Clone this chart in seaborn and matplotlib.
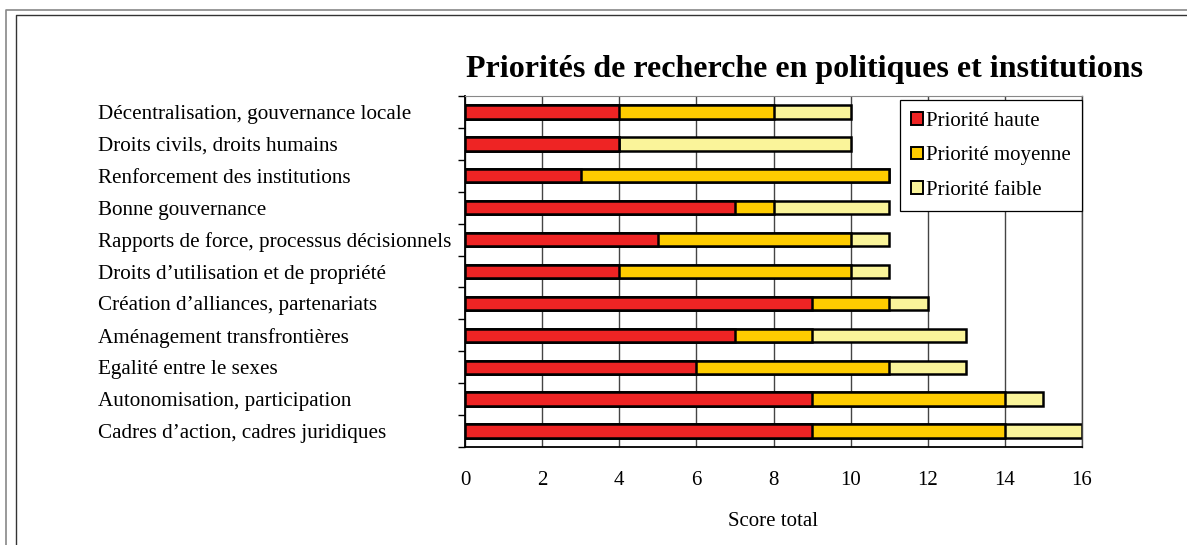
import matplotlib
matplotlib.use("Agg")
import matplotlib.pyplot as plt
from matplotlib.patches import Patch
from matplotlib.lines import Line2D
import seaborn as sns
import pandas as pd
import numpy as np

# Data (top to bottom)
themes = ["Décentralisation, gouvernance locale",
          "Droits civils, droits humains",
          "Renforcement des institutions",
          "Bonne gouvernance",
          "Rapports de force, processus décisionnels",
          "Droits d\u2019utilisation et de propriété",
          "Création d\u2019alliances, partenariats",
          "Aménagement transfrontières",
          "Egalité entre le sexes",
          "Autonomisation, participation",
          "Cadres d\u2019action, cadres juridiques"]
haute = [4, 4, 3, 7, 5, 4, 9, 7, 6, 9, 9]
moyenne = [4, 0, 8, 1, 5, 6, 2, 2, 5, 5, 5]
faible = [2, 6, 0, 3, 1, 1, 1, 4, 2, 1, 2]

colors = {"Priorité haute": "#EE2424",
          "Priorité moyenne": "#FFCC00",
          "Priorité faible": "#FAF49A"}

df = pd.DataFrame({"theme": themes, "haute": haute,
                   "moyenne": moyenne, "faible": faible})
df["cum_moy"] = df["haute"] + df["moyenne"]
df["total"] = df["cum_moy"] + df["faible"]

sns.set_style("white")
plt.rcParams["font.family"] = ["Liberation Serif", "DejaVu Serif"]
plt.rcParams.update({"text.color": "black", "axes.labelcolor": "black",
                     "xtick.color": "black", "ytick.color": "black"})

fig = plt.figure(figsize=(11.87, 5.45), dpi=100)
ax = fig.add_axes([465 / 1187, 1 - 447 / 545, (1082 - 465) / 1187, (447 - 96) / 545])

# stacked bars drawn as overlaid cumulative totals
for col, name in [("total", "Priorité faible"), ("cum_moy", "Priorité moyenne"),
                  ("haute", "Priorité haute")]:
    sns.barplot(data=df, y="theme", x=col, order=themes, color=colors[name],
                saturation=1, width=0.42, edgecolor="black", linewidth=1.8, ax=ax)

ax.set_xlim(0, 16)
ax.set_ylim(10.5, -0.5)
ax.set_xticks(np.arange(0, 17, 2))
ax.set_yticks(np.arange(-0.5, 11, 1), minor=True)
ax.grid(axis="x", color="#444444", linewidth=1.0)
ax.set_axisbelow(True)

ax.tick_params(axis="x", which="major", direction="out", length=5, width=1,
               color="black", labelsize=15, pad=12)
ax.tick_params(axis="y", which="major", length=0, labelsize=15.2, pad=264)
ax.tick_params(axis="y", which="minor", direction="out", length=5, width=1,
               color="black", left=True)
for lbl in ax.get_yticklabels():
    lbl.set_horizontalalignment("left")

for side in ["left", "bottom"]:
    ax.spines[side].set_color("black")
    ax.spines[side].set_linewidth(1.3)
ax.spines["top"].set_color("#888888")
ax.spines["right"].set_color("#444444")
ax.spines["right"].set_linewidth(1.0)

ax.set_ylabel("")
ax.set_xlabel("Score total", fontsize=15, labelpad=16)

handles = [Patch(facecolor=c, edgecolor="black", linewidth=1.4, label=n)
           for n, c in colors.items()]
leg = ax.legend(handles=handles, loc="upper right", bbox_to_anchor=(1.0, 0.988),
                fontsize=15, frameon=True, fancybox=False, framealpha=1,
                edgecolor="black", handlelength=0.55, handleheight=0.55,
                handletextpad=0.15, labelspacing=0.75, borderpad=0.55,
                borderaxespad=0)
leg.get_frame().set_linewidth(0.9)

fig.text(0.678, 0.872, "Priorités de recherche en politiques et institutions",
         ha="center", va="center", fontsize=23, fontweight="bold")

# outer frames (Excel chart area border)
fig.add_artist(Line2D([6 / 1187, 6 / 1187, 1.0], [0, 1 - 10 / 545, 1 - 10 / 545],
                      transform=fig.transFigure, color="#888888", linewidth=1.2))
fig.add_artist(Line2D([16 / 1187, 16 / 1187, 1.0], [0, 1 - 15 / 545, 1 - 15 / 545],
                      transform=fig.transFigure, color="#333333", linewidth=1.0))

fig.savefig("out.png", dpi=100)
